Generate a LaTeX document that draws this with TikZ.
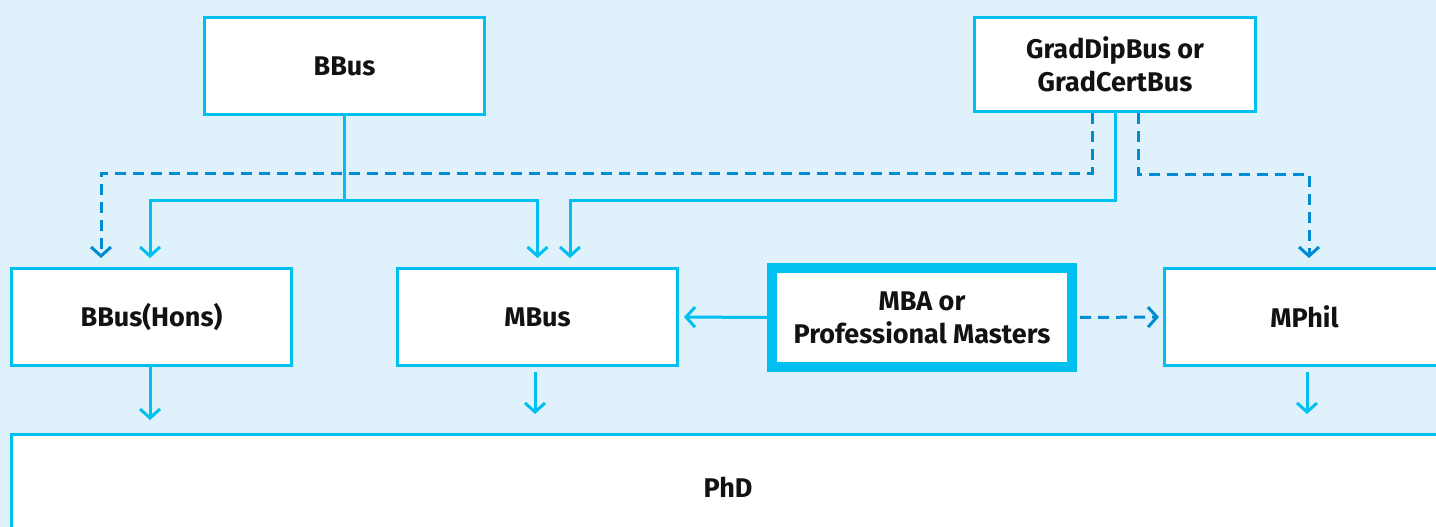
\documentclass[tikz,border=0pt]{standalone}
\usepackage{fontspec}
\setmainfont{Fira Sans}
\usetikzlibrary{arrows.meta}
\definecolor{bg}{RGB}{223,241,251}
\definecolor{cy}{RGB}{0,192,240}
\definecolor{db}{RGB}{0,140,210}
\begin{document}
\begin{tikzpicture}[x=1pt,y=-1pt,
  box/.style={draw=cy, line width=3pt, fill=white, inner sep=0pt, align=center,
    minimum width=280pt, minimum height=97pt, text=black!93,
    font=\fontsize{27}{33}\selectfont\bfseries},
  solidarrow/.style={draw=cy, line width=3pt, -{Straight Barb[length=9pt,width=20pt]}},
  dasharrow/.style={draw=db, line width=3pt, dash pattern=on 11pt off 7pt,
    -{Straight Barb[length=9pt,width=20pt]}},
  solidline/.style={draw=cy, line width=3pt}]
\useasboundingbox (0,0) rectangle (1436,527);
\fill[bg] (0,0) rectangle (1436,527);
% boxes
\node[box] (bbus) at (344.5,66) {BBus};
\node[box, minimum width=281pt, minimum height=94pt] (grad) at (1115,64.5) {GradDipBus or\\GradCertBus};
\node[box] (hons) at (151.5,317) {BBus(Hons)};
\node[box] (mbus) at (537.5,317) {MBus};
\node[box, line width=10pt, minimum width=300pt, minimum height=99pt] (mba) at (922,317.5) {MBA or\\Professional Masters};
\node[box] (mphil) at (1304.5,317) {MPhil};
\node[box, minimum width=1433pt, minimum height=105pt] (phd) at (728,487) {PhD};
% turning points
\coordinate (bsplit) at (344.5,200);
\coordinate (gl) at ([xshift=-23pt]grad.south);
\coordinate (gr) at ([xshift=23pt]grad.south);
\coordinate (gl2) at (1092,173);
\coordinate (gm2) at (1115,200);
\coordinate (gr2) at (1138,174);
% BBus to Hons and MBus
\draw[solidline] (bbus.south) -- (bsplit);
\draw[solidarrow, shorten >=9pt] (bsplit) -| ([xshift=-1.5pt]hons.north);
\draw[solidarrow, shorten >=9pt] (bsplit) -| (mbus.north);
% GradDip connectors
\draw[dasharrow, shorten >=9pt] (gl) -- (gl2) -| ([xshift=-50.5pt]hons.north);
\draw[solidarrow, shorten >=9pt] (grad.south) -- (gm2) -| ([xshift=32.5pt]mbus.north);
\draw[dasharrow, shorten >=9pt] (gr) -- (gr2) -| ([xshift=4.5pt]mphil.north);
% horizontal
\draw[solidarrow, shorten >=5pt] (mba.west) -- (mbus.east);
\draw[dasharrow, shorten <=3pt, shorten >=4pt] (mba.east) -- (mphil.west);
% to PhD
\draw[solidarrow, shorten >=13pt] ([xshift=-1.5pt]hons.south) -- ([xshift=-1.5pt]hons.south |- phd.north);
\draw[solidarrow, shorten <=5pt, shorten >=19pt] ([xshift=-2.5pt]mbus.south) -- ([xshift=-2.5pt]mbus.south |- phd.north);
\draw[solidarrow, shorten <=5pt, shorten >=19pt] ([xshift=2.5pt]mphil.south) -- ([xshift=2.5pt]mphil.south |- phd.north);
\end{tikzpicture}
\end{document}
